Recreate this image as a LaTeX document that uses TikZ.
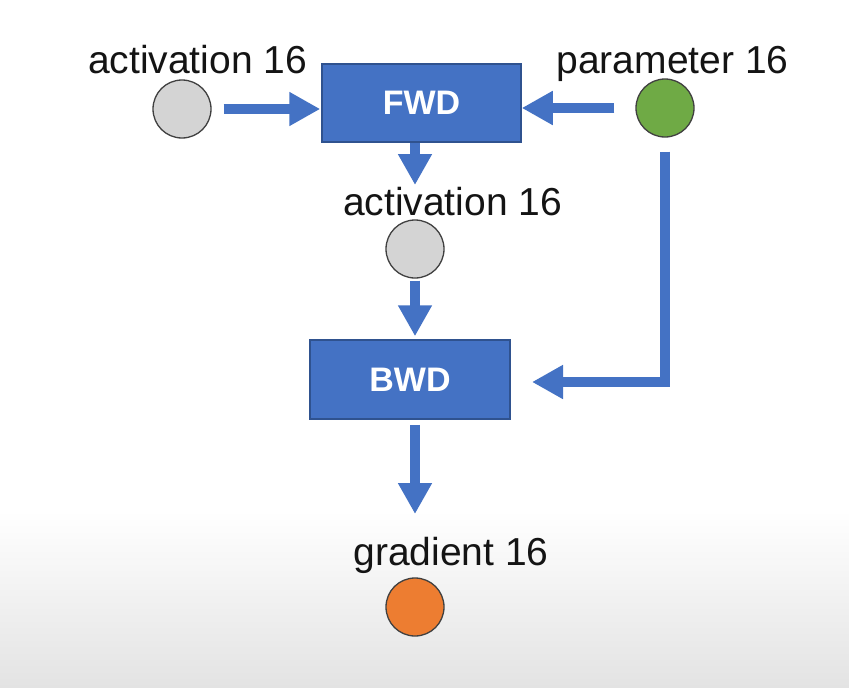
\documentclass[tikz,border=0pt]{standalone}
\usepackage{fontspec}
\setmainfont{Liberation Sans}
\usetikzlibrary{arrows.meta,calc}
\definecolor{offblue}{HTML}{4472C4}
\definecolor{boxline}{HTML}{2F528F}
\definecolor{pgreen}{HTML}{6FAA45}
\definecolor{gorange}{HTML}{ED7D31}
\definecolor{agray}{HTML}{D4D4D4}
\definecolor{bottomgray}{HTML}{E3E3E3}
\tikzset{
  ball/.style={circle, draw=black!75, line width=1.3pt, minimum size=58pt, inner sep=0pt},
  opbox/.style={rectangle, draw=boxline, line width=1.5pt, fill=offblue, text=white,
    font=\fontsize{34}{36}\selectfont\bfseries, inner sep=0pt},
  lbl/.style={anchor=base, font=\fontsize{39}{41}\selectfont, text=black!92, inner sep=0pt},
  arr/.style={draw=offblue, line width=10.5pt, line join=miter,
    -{Triangle[width=32pt,length=31pt]}},
}
\begin{document}
\begin{tikzpicture}[x=1pt,y=-1pt]
  \useasboundingbox (0,0) rectangle (849,688);
  \fill[white] (0,0) rectangle (849,688);
  \shade[top color=white, bottom color=bottomgray] (0,510) rectangle (849,688);

  % nodes
  \node[ball, fill=agray] (a1) at (182,109) {};
  \node[lbl] (a1l) at (197.5,73) {activation 16};
  \node[opbox, minimum width=199pt, minimum height=78pt] (fwd) at (421.5,103) {FWD};
  \node[ball, fill=pgreen] (p) at (665,108) {};
  \node[lbl] (pl) at (672.5,73) {parameter 16};
  \node[lbl] (a2l) at (452.5,215) {activation 16};
  \node[ball, fill=agray] (a2) at (415,249) {};
  \node[opbox, minimum width=200pt, minimum height=79pt] (bwd) at (410,379.5) {BWD};
  \node[lbl] (gl) at (451,565) {gradient 16};
  \node[ball, fill=gorange] (g) at (415,607) {};

  \coordinate (t1) at (415,185);
  \coordinate (t2) at (415,514);
  \coordinate (t3) at (532,382);

  % connectors
  \draw[arr, shorten <=12pt] (a1.east) -- ([xshift=-1pt]fwd.west |- a1.east);
  \draw[arr, shorten <=21pt] (p.west) -- ([xshift=0pt]fwd.east |- p.west);
  \draw[arr] (fwd.south -| t1) -- (t1);
  \draw[arr, shorten <=2pt, shorten >=3pt] (a2.south) -- (bwd.north -| a2.south);
  \draw[arr, shorten <=14pt] (p.south) |- (t3);
  \draw[arr, shorten <=5pt] (bwd.south -| t2) -- (t2);
\end{tikzpicture}
\end{document}
